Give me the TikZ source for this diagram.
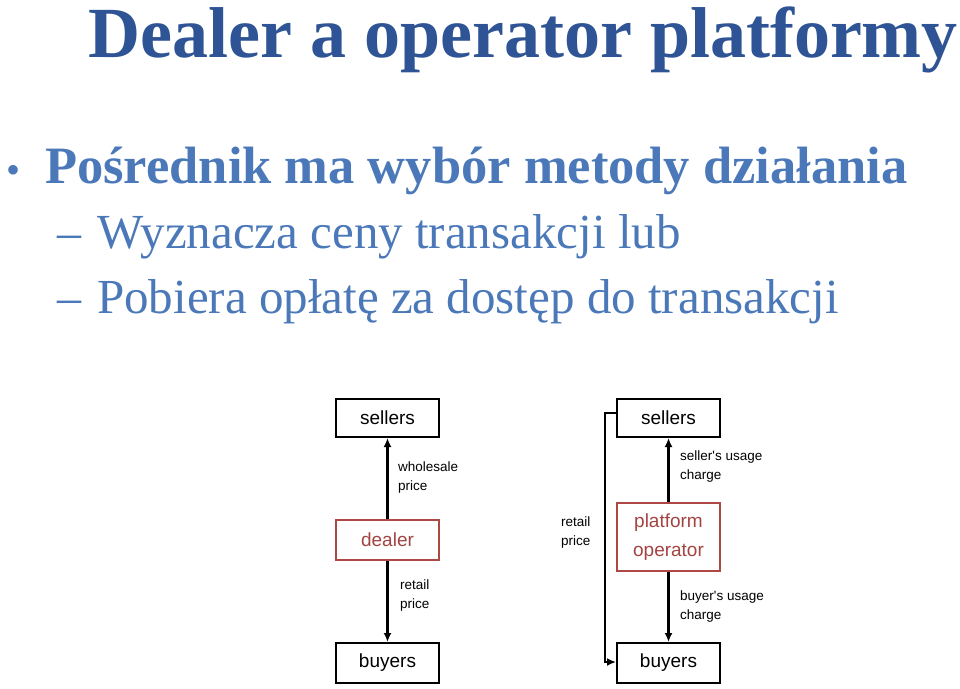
\documentclass[tikz,border=0pt]{standalone}
\usepackage{fontspec}
\setmainfont{Liberation Serif}
\newfontfamily\diag{Liberation Sans}
\usetikzlibrary{arrows.meta}
\definecolor{ttl}{HTML}{2E5495}
\definecolor{txt}{HTML}{4A78B8}
\definecolor{red}{HTML}{C0504D}
\tikzset{
 box/.style={draw,line width=2pt,minimum width=103pt,minimum height=38pt,inner sep=0pt,font=\diag\fontsize{19}{22}\selectfont},
 rbox/.style={box,draw=red!90!black,text=red!85!black},
 lbl/.style={font=\diag\fontsize{13.5}{19}\selectfont,align=left,anchor=west,inner sep=0pt},
 arr/.style={line width=2.4pt,-{Latex[length=9pt,width=8pt]}},
 t/.style={anchor=base west,inner sep=0pt}
}
\begin{document}
\begin{tikzpicture}[x=1pt,y=-1pt]
\useasboundingbox (0,0) rectangle (960,688);
\node[t,text=ttl,font=\bfseries\fontsize{72}{72}\selectfont] (title) at (88,57) {Dealer a operator platformy};
\node[t,text=txt,font=\fontsize{40}{40}\selectfont] (b) at (6,183) {•};
\node[t,text=txt,font=\bfseries\fontsize{52.5}{52}\selectfont] (l1) at (45,183) {Pośrednik ma wybór metody działania};
\node[t,text=txt,font=\fontsize{48}{48}\selectfont] (d1) at (57,248) {–};
\node[t,text=txt,font=\fontsize{49}{49}\selectfont] (l2) at (97,248) {Wyznacza ceny transakcji lub};
\node[t,text=txt,font=\fontsize{48}{48}\selectfont] (d2) at (57,313) {–};
\node[t,text=txt,font=\fontsize{49}{49}\selectfont] (l3) at (97,313) {Pobiera opłatę za dostęp do transakcji};
% left
\node[box] (s1) at (387.5,418) {sellers};
\node[rbox,minimum height=40pt] (dl) at (387.5,540) {dealer};
\node[box,minimum height=40pt] (b1) at (387.5,663) {buyers};
\draw[arr] (dl) -- (s1);
\draw[arr] (dl) -- (b1);
\node[lbl] (w) at (398,478) {wholesale\\price};
\node[lbl] (r) at (400,595) {retail\\price};
% right
\node[box] (s2) at (668.5,418) {sellers};
\node[rbox,minimum height=68pt,align=center,font=\diag\fontsize{19}{29}\selectfont] (po) at (668.5,537) {platform\\operator};
\node[box,minimum height=40pt] (b2) at (668.5,663) {buyers};
\draw[arr] (po) -- (s2);
\draw[arr] (po) -- (b2);
\coordinate (c1) at (605,413);
\coordinate (c2) at (605,662);
\draw[arr] (s2.west |- c1) -- (c1) -- (c2) -- (b2.west |- c2);
\node[lbl] (su) at (680,467) {seller's usage\\charge};
\node[lbl] (bu) at (680,606) {buyer's usage\\charge};
\node[lbl] (rp) at (561,533) {retail\\price};
\end{tikzpicture}
\end{document}
